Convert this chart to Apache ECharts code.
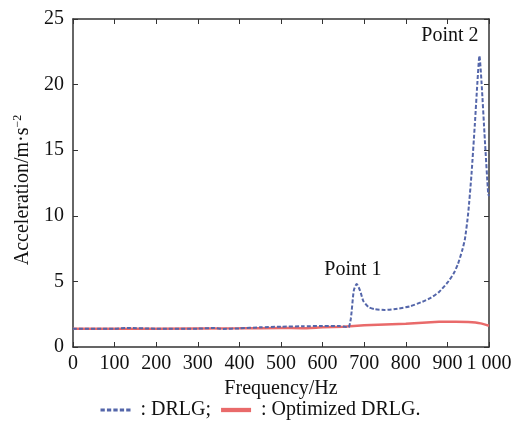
<!DOCTYPE html>
<html>
<head>
<meta charset="utf-8">
<script src="https://cdn.jsdelivr.net/npm/echarts@6/dist/echarts.min.js"></script>
<style>
  html, body { margin: 0; padding: 0; background: #fff; }
  #chart { width: 521px; height: 428px; }
</style>
</head>
<body>
<div id="chart"></div>
<script>
// DRLG response (blue dashed)
const drlgFreq = [0, 100, 130, 200, 300, 340, 360, 400, 450, 500, 550, 600, 640, 662, 668, 675, 682, 690, 698, 710, 725, 750, 780, 810, 840, 860, 880, 900, 915, 925, 935, 942, 950, 958, 966, 972, 977, 982, 990, 998, 1000];
const drlgAcc = [1.4, 1.4, 1.45, 1.4, 1.4, 1.45, 1.38, 1.42, 1.5, 1.55, 1.58, 1.6, 1.6, 1.5, 2.2, 4.3, 4.8, 4.3, 3.5, 3.05, 2.88, 2.82, 2.92, 3.1, 3.45, 3.75, 4.2, 4.9, 5.6, 6.3, 7.3, 8.2, 10.2, 13.2, 17.0, 20.1, 22.2, 20.2, 15.8, 11.7, 11.5];

// Optimized DRLG response (red solid)
const optFreq = [0, 200, 400, 500, 550, 600, 650, 700, 800, 880, 920, 950, 980, 1000];
const optAcc = [1.4, 1.4, 1.42, 1.45, 1.43, 1.5, 1.55, 1.65, 1.78, 1.92, 1.93, 1.9, 1.8, 1.62];

const pointLabels = [
  { name: 'Point 1', coord: [673, 5.9] },
  { name: 'Point 2', coord: [906, 23.7] }
];

const font = 'Liberation Serif';
const fs = 20;
const axisColor = '#333';
const blue = '#5466aa';
const red = '#e96a6a';

const zip = (xs, ys) => xs.map((x, i) => [x, ys[i]]);

const chart = echarts.init(document.getElementById('chart'));

const frame = {
  axisLine: { show: true, onZero: false, lineStyle: { color: axisColor, width: 1.5 } },
  axisTick: { show: true, inside: true, length: 5, lineStyle: { color: axisColor } },
  splitLine: { show: false }
};

chart.setOption({
  animation: false,
  textStyle: { fontFamily: font },
  grid: { left: 73, right: 32, top: 19, bottom: 81 },
  legend: {
    bottom: 3,
    left: 'center',
    itemWidth: 30,
    itemHeight: 10,
    itemGap: 10,
    textStyle: { fontFamily: font, fontSize: fs, color: '#111' },
    formatter: (name) => ' : ' + name + (name === 'DRLG' ? ';' : '.'),
    data: [
      { name: 'DRLG', icon: 'path://M0,0 L4,0 L4,3 L0,3 Z M6,0 L10,0 L10,3 L6,3 Z M12,0 L16,0 L16,3 L12,3 Z M18,0 L22,0 L22,3 L18,3 Z M24,0 L28,0 L28,3 L24,3 Z', itemStyle: { color: blue } },
      { name: 'Optimized DRLG', icon: 'path://M0,0 L28,0 L28,4 L0,4 Z', itemStyle: { color: red } }
    ]
  },
  xAxis: [
    Object.assign({}, frame, {
      type: 'value',
      min: 0,
      max: 1000,
      interval: 100,
      name: 'Frequency/Hz',
      nameLocation: 'middle',
      nameGap: 27,
      nameTextStyle: { fontFamily: font, fontSize: fs, color: '#111' },
      axisLabel: {
        fontFamily: font, fontSize: fs, color: '#111', margin: 7,
        formatter: (v) => v === 1000 ? '1 000' : String(v)
      }
    }),
    Object.assign({}, frame, {
      type: 'value',
      position: 'top',
      min: 0,
      max: 1000,
      interval: 100,
      axisLabel: { show: false }
    })
  ],
  yAxis: [
    Object.assign({}, frame, {
      type: 'value',
      min: 0,
      max: 25,
      interval: 5,
      name: '{n|Acceleration/m·s}{s|−2}',
      nameLocation: 'middle',
      nameGap: 40,
      nameTextStyle: {
        padding: [0, 14, 0, 0],
        rich: {
          n: { fontFamily: font, fontSize: fs, color: '#111' },
          s: { fontFamily: font, fontSize: 12, color: '#111', verticalAlign: 'top', padding: [0, 0, 9, 0] }
        }
      },
      axisLabel: { fontFamily: font, fontSize: fs, color: '#111', margin: 9 }
    }),
    Object.assign({}, frame, {
      type: 'value',
      position: 'right',
      min: 0,
      max: 25,
      interval: 5,
      axisLabel: { show: false }
    })
  ],
  series: [
    {
      name: 'Optimized DRLG',
      type: 'line',
      data: zip(optFreq, optAcc),
      showSymbol: false,
      smooth: 0.2,
      lineStyle: { color: red, width: 2.5 },
      itemStyle: { color: red },
      z: 2
    },
    {
      name: 'DRLG',
      type: 'line',
      data: zip(drlgFreq, drlgAcc),
      showSymbol: false,
      smooth: 0.2,
      lineStyle: { color: blue, width: 2, type: [4, 2] },
      itemStyle: { color: blue },
      z: 3,
      markPoint: {
        symbol: 'circle',
        symbolSize: 0,
        label: {
          show: true,
          position: 'inside',
          formatter: '{b}',
          fontFamily: font,
          fontSize: fs,
          color: '#111'
        },
        data: pointLabels
      }
    }
  ]
});
</script>
</body>
</html>
